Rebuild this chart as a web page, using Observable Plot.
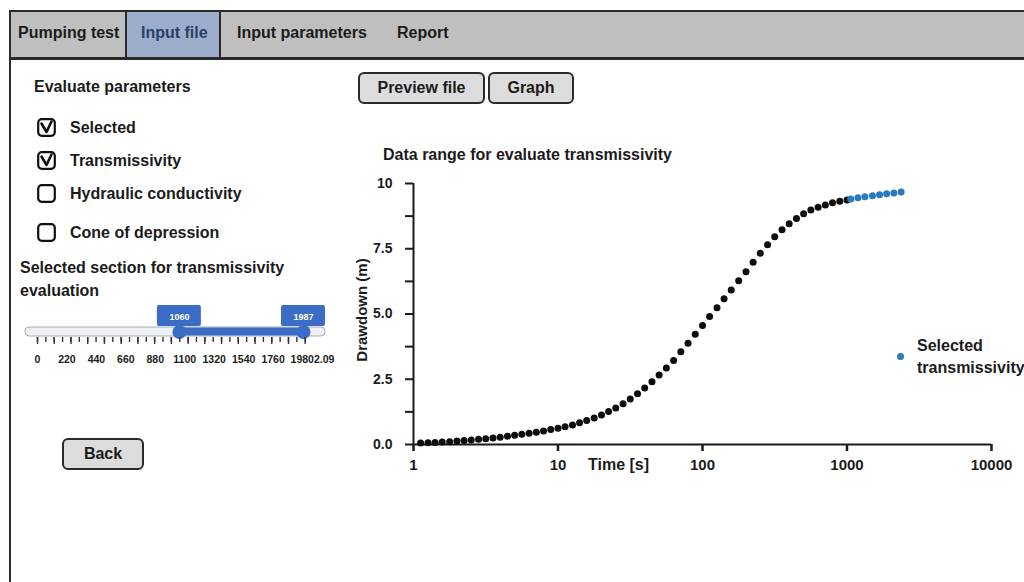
<!DOCTYPE html>
<html>
<head>
<meta charset="utf-8">
<script src="https://cdn.jsdelivr.net/npm/d3@7"></script>
<script src="https://cdn.jsdelivr.net/npm/@observablehq/plot@0.6"></script>
<style>
html, body { margin: 0; padding: 0; background: #fff; width: 1024px; height: 582px; overflow: hidden; }
body { position: relative; font-family: "Liberation Sans", Arial, sans-serif; font-weight: bold; color: #1b1b1b; }
.abs { position: absolute; white-space: nowrap; }
.t16 { font-size: 16px; line-height: 18px; }
#frame { position: absolute; left: 9px; top: 10px; width: 1200px; height: 800px; border-left: 2.5px solid #2a2a2a; border-top: 2.5px solid #2a2a2a; }
#tabbar { position: absolute; left: 11px; top: 12px; width: 1200px; height: 45px; background: #bfbfbf; border-bottom: 3px solid #2a2a2a; }
#activeTab { position: absolute; left: 125px; top: 12px; width: 92px; height: 45px; background: #9cadcb; border-left: 2px solid #2a2a2a; border-right: 2px solid #2a2a2a; }
.tab { position: absolute; top: 24px; font-size: 16px; line-height: 18px; }
.btn { position: absolute; box-sizing: border-box; border: 2px solid #2a2a2a; border-radius: 6px; background: #dcdcdc; font-size: 16px; text-align: center; }
.cb { position: absolute; left: 37px; width: 19px; height: 19px; }
</style>
</head>
<body>
<script>
// ---------------- data ----------------
const timeBlack = [1.12, 1.26, 1.41, 1.58, 1.78, 2, 2.24, 2.51, 2.82,
  3.16, 3.55, 3.98, 4.47, 5.01, 5.62, 6.31, 7.08, 7.94, 8.91,
  10, 11.2, 12.6, 14.1, 15.8, 17.8, 20, 22.4, 25.1, 28.2,
  31.6, 35.5, 39.8, 44.7, 50.1, 56.2, 63.1, 70.8, 79.4, 89.1,
  100, 112, 126, 141, 158, 178, 200, 224, 251, 282,
  316, 355, 398, 447, 501, 562, 631, 708, 794, 891, 1000];
const drawdownBlack = [0.06, 0.07, 0.08, 0.10, 0.11, 0.13, 0.15, 0.17, 0.20,
  0.22, 0.25, 0.28, 0.32, 0.35, 0.39, 0.43, 0.47, 0.52, 0.57,
  0.62, 0.68, 0.75, 0.83, 0.92, 1.02, 1.13, 1.26, 1.40, 1.56,
  1.74, 1.94, 2.16, 2.40, 2.66, 2.93, 3.22, 3.55, 3.88, 4.22,
  4.56, 4.90, 5.24, 5.58, 5.92, 6.27, 6.62, 6.98, 7.33, 7.65,
  7.96, 8.23, 8.46, 8.66, 8.84, 8.98, 9.09, 9.18, 9.26, 9.32, 9.37];
const timeSelected = [1060, 1190, 1330, 1500, 1680, 1880, 2110, 2370];
const drawdownSelected = [9.41, 9.45, 9.49, 9.53, 9.57, 9.61, 9.64, 9.67];

const xTickValues = [1, 10, 100, 1000, 10000];
const xTickLabels = ["1", "10", "100", "1000", "10000"];
const yMinorTicks = [0, 1.25, 2.5, 3.75, 5, 6.25, 7.5, 8.75, 10];
const yTickValues = [0, 2.5, 5, 7.5, 10];
const yTickLabels = ["0.0", "2.5", "5.0", "7.5", "10"];
const xDomain = [1, 10000];
const yDomain = [0, 10];

const sliderMin = 0, sliderMax = 2002.09;
const sliderLow = 1060, sliderHigh = 1987;
const sliderLabelValues = [0, 220, 440, 660, 880, 1100, 1320, 1540, 1760, 1980];
const sliderLabels = ["0", "220", "440", "660", "880", "1100", "1320", "1540", "1760", "19802.09"];

const tabs = ["Pumping test", "Input file", "Input parameters", "Report"];
const checks = [["Selected", true], ["Transmissivity", true], ["Hydraulic conductivity", false], ["Cone of depression", false]];

const blackData = timeBlack.map((t, i) => ({t, s: drawdownBlack[i]}));
const selData = timeSelected.map((t, i) => ({t, s: drawdownSelected[i]}));

// ---------------- page chrome ----------------
function add(html) { document.body.insertAdjacentHTML("beforeend", html); }
add('<div id="frame"></div><div id="tabbar"></div><div id="activeTab"></div>');
const tabLeft = [18, 141, 237, 397];
tabs.forEach((t, i) => add(`<div class="tab" style="left:${tabLeft[i]}px;${i === 1 ? "color:#2c3f68;" : ""}">${t}</div>`));

add('<div class="abs t16" style="left:34px;top:78px;">Evaluate parameters</div>');
const cbTop = [118, 151, 184, 223];
checks.forEach(([label, on], i) => {
  const mark = on ? '<path d="M4.5 5.5 L9.5 14 L14.5 3.5" fill="none" stroke="#111" stroke-width="2.6" stroke-linejoin="round" stroke-linecap="round"/>' : '';
  add(`<svg class="cb" style="top:${cbTop[i]}px" viewBox="0 0 19 19"><rect x="1.2" y="1.2" width="16.6" height="16.6" rx="3.5" fill="#fff" stroke="#111" stroke-width="2.2"/>${mark}</svg>`);
  add(`<div class="abs t16" style="left:70px;top:${cbTop[i] + 1}px;">${label}</div>`);
});
add('<div class="abs t16" style="left:20px;top:259px;">Selected section for transmissivity</div>');
add('<div class="abs t16" style="left:20px;top:282px;">evaluation</div>');

add('<div class="btn" style="left:62px;top:438px;width:82px;height:32px;line-height:28px;">Back</div>');
add('<div class="btn" style="left:358px;top:72px;width:127px;height:32px;line-height:28px;">Preview file</div>');
add('<div class="btn" style="left:488px;top:72px;width:86px;height:32px;line-height:28px;">Graph</div>');

add('<div class="abs t16" style="left:383px;top:146px;">Data range for evaluate transmissivity</div>');
add('<div class="abs" style="left:362px;top:310px;font-size:15px;line-height:16px;transform:translate(-50%,-50%) rotate(-90deg);">Drawdown (m)</div>');
add('<div class="abs t16" style="left:588px;top:456px;">Time [s]</div>');

// ---------------- slider (Plot) ----------------
const blue = "#3b6cc6";
const slider = Plot.plot({
  width: 345, height: 70,
  marginLeft: 37, marginRight: 40, marginTop: 27, marginBottom: 34,
  x: {domain: [sliderMin, sliderMax], axis: null},
  style: {fontFamily: "Liberation Sans, Arial, sans-serif", fontWeight: "bold", color: "#1b1b1b", background: "transparent", overflow: "visible"},
  marks: [
    Plot.rect([0], {x1: () => sliderMin, x2: () => sliderMax, insetLeft: -12, insetRight: -20, fill: "#eef0f4", stroke: "#a8acb4", strokeWidth: 1, rx: 4}),
    Plot.rect([sliderLow, sliderHigh], {x1: d => d, x2: d => d, insetLeft: -22, insetRight: -22, insetTop: -22, insetBottom: 10, fill: blue, rx: 2}),
    Plot.rect([0], {x1: () => sliderLow, x2: () => sliderHigh, insetTop: 0.5, insetBottom: 0.5, fill: blue}),
    Plot.dot([sliderLow, sliderHigh], {x: d => d, frameAnchor: "middle", r: 7, fill: blue}),
    Plot.text([sliderLow, sliderHigh], {x: d => d, text: d => String(d), frameAnchor: "top", dy: -14, fill: "#fff", fontSize: 9, fontWeight: "bold"}),
    Plot.tickX(d3.range(sliderMin, sliderMax, 62.5), {x: d => d, dy: 10, insetBottom: 4, stroke: "#333", strokeWidth: 1.4}),
    Plot.tickX(d3.range(sliderMin, sliderMax, 125), {x: d => d, dy: 10, insetBottom: 2, stroke: "#333", strokeWidth: 1.4}),
    Plot.text(sliderLabelValues.slice(0, -1), {x: d => d, text: (d, i) => sliderLabels[i], frameAnchor: "bottom", dy: 26, fontSize: 10.5, fontWeight: "bold"}),
    Plot.text(sliderLabelValues.slice(-1), {x: d => d, text: () => sliderLabels[sliderLabels.length - 1], frameAnchor: "bottom", dy: 26, dx: -12, textAnchor: "start", fontSize: 10.5, fontWeight: "bold"})
  ]
});
const sWrap = document.createElement("div");
sWrap.className = "abs";
sWrap.style.left = "0px"; sWrap.style.top = "300px";
sWrap.appendChild(slider);
document.body.appendChild(sWrap);

// ---------------- chart (Plot) ----------------
const chart = Plot.plot({
  width: 694, height: 320,
  marginLeft: 83, marginRight: 33, marginTop: 13, marginBottom: 46,
  x: {type: "log", domain: xDomain, axis: null},
  y: {domain: yDomain, axis: null},
  style: {fontFamily: "Liberation Sans, Arial, sans-serif", fontWeight: "bold", fontSize: "15px", color: "#1b1b1b", background: "transparent", overflow: "visible"},
  marks: [
    Plot.ruleX([xDomain[0]], {stroke: "#1b1b1b", strokeWidth: 2}),
    Plot.ruleY([yDomain[0]], {stroke: "#1b1b1b", strokeWidth: 2}),
    Plot.axisY({ticks: yMinorTicks, tickSize: 8, tickPadding: 13, strokeWidth: 2, fontSize: 14, fontWeight: "bold", label: null,
      tickFormat: d => { const k = yTickValues.indexOf(d); return k >= 0 ? yTickLabels[k] : ""; }}),
    Plot.axisX({ticks: xTickValues, tickSize: 7, tickPadding: 8, strokeWidth: 2.5, fontSize: 15, fontWeight: "bold", label: null,
      tickFormat: d => xTickLabels[xTickValues.indexOf(d)]}),
    Plot.dot(blackData, {x: "t", y: "s", r: 3.5, fill: "#0d0d0d"}),
    Plot.dot(selData, {x: "t", y: "s", r: 3.5, fill: "#2a7bbd"})
  ]
});
const cWrap = document.createElement("div");
cWrap.className = "abs";
cWrap.style.left = "330px"; cWrap.style.top = "170px";
cWrap.appendChild(chart);
document.body.appendChild(cWrap);

// legend
add('<div class="abs" style="left:897px;top:353px;width:7px;height:7px;border-radius:50%;background:#2a7bbd;"></div>');
add('<div class="abs" style="left:917px;top:335px;font-size:16px;line-height:22px;">Selected<br>transmissivity</div>');
</script>
</body>
</html>
